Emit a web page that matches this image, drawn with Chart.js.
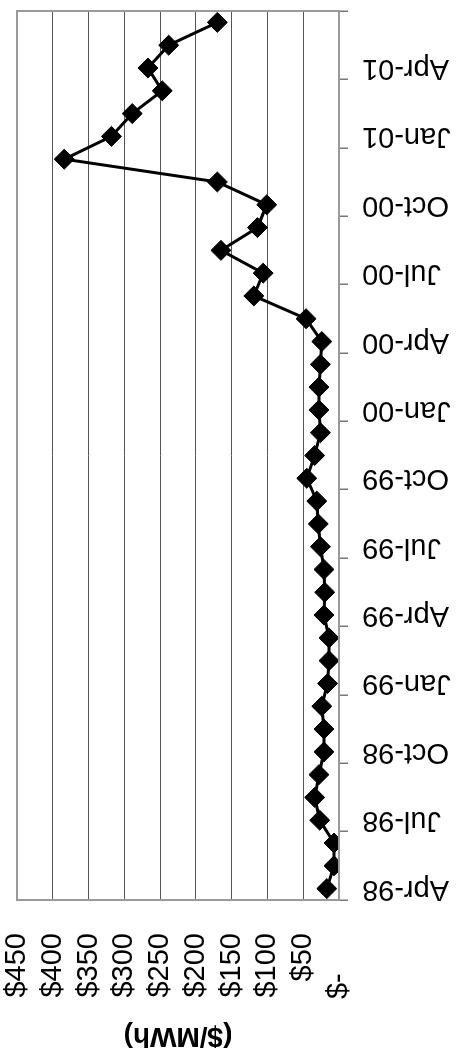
<!DOCTYPE html>
<html>
<head>
<meta charset="utf-8">
<script src="https://cdn.jsdelivr.net/npm/chart.js@4/dist/chart.umd.min.js"></script>
<style>
  html, body { margin: 0; padding: 0; background: #fff; overflow: hidden; }
  body { width: 463px; height: 1061px; position: relative; }
  /* chart is laid out landscape and turned a quarter turn to stand upright */
  #wrap {
    position: absolute; left: 0; top: 0;
    width: 1061px; height: 463px;
    transform-origin: 0 0;
    transform: translate(0, 1061px) rotate(-90deg);
  }
</style>
</head>
<body>
<div id="wrap"><canvas id="priceChart" width="1061" height="463"></canvas></div>
<script>
// Monthly average price, Apr-98 to Jun-01
const months = [
  "Apr-98", "May-98", "Jun-98", "Jul-98", "Aug-98", "Sep-98", "Oct-98", "Nov-98", "Dec-98",
  "Jan-99", "Feb-99", "Mar-99", "Apr-99", "May-99", "Jun-99", "Jul-99", "Aug-99", "Sep-99",
  "Oct-99", "Nov-99", "Dec-99", "Jan-00", "Feb-00", "Mar-00", "Apr-00", "May-00", "Jun-00",
  "Jul-00", "Aug-00", "Sep-00", "Oct-00", "Nov-00", "Dec-00", "Jan-01", "Feb-01", "Mar-01",
  "Apr-01", "May-01", "Jun-01"
];
const prices = [
  17, 7, 7, 27, 34, 28, 21, 21, 24,
  16, 14, 14, 21, 20, 21, 26, 29, 31,
  45, 34, 26, 28, 28, 26, 24, 46, 119,
  106, 165, 114, 101, 170, 384, 318, 289, 247,
  267, 238, 170
];
const valueTicks = [0, 50, 100, 150, 200, 250, 300, 350, 400, 450];

const FONT = "'Liberation Sans', Arial, sans-serif";
const BORDER = '#9a9a9a';

// gray frame round the plot area
const plotFrame = {
  id: 'plotFrame',
  afterDatasetsDraw(chart) {
    const { ctx, chartArea: a } = chart;
    ctx.save();
    ctx.strokeStyle = BORDER;
    ctx.lineWidth = 2;
    ctx.strokeRect(a.left, a.top, a.right - a.left, a.bottom - a.top);
    ctx.restore();
  }
};

const ctx = document.getElementById('priceChart').getContext('2d');
new Chart(ctx, {
  type: 'line',
  data: {
    labels: months,
    datasets: [{
      data: prices,
      borderColor: '#000',
      borderWidth: 3,
      backgroundColor: '#000',
      pointStyle: 'rectRot',
      pointRadius: 10,
      pointBorderWidth: 1,
      pointBorderColor: '#000',
      pointBackgroundColor: '#000',
      tension: 0,
      fill: false
    }]
  },
  options: {
    responsive: false,
    animation: false,
    devicePixelRatio: 1,
    layout: { padding: { left: 0, top: 17, right: 3, bottom: 0 } },
    plugins: {
      legend: { display: false },
      tooltip: { enabled: false }
    },
    scales: {
      x: {
        type: 'category',
        offset: true,
        afterFit: (s) => {
          s.height = 124;
          s.paddingLeft = 0;
          s.paddingRight = 0;
        },
        border: { display: false },
        grid: {
          offset: true,
          drawOnChartArea: false,
          drawTicks: true,
          tickLength: 9,
          lineWidth: 1.5,
          tickColor: (c) => (c.index === undefined || c.index % 3 === 0) ? '#777' : 'rgba(0,0,0,0)'
        },
        ticks: {
          autoSkip: false,
          minRotation: 90,
          maxRotation: 90,
          padding: 14,
          color: '#000',
          font: { family: FONT, size: 29 },
          callback: (v, i) => i % 3 === 0 ? months[i] : ''
        }
      },
      y: {
        min: 0,
        max: 450,
        afterFit: (s) => {
          s.width = 161;
          s.paddingTop = 0;
          s.paddingBottom = 0;
        },
        afterBuildTicks: (s) => { s.ticks = valueTicks.map(v => ({ value: v })); },
        border: { display: false },
        grid: {
          drawTicks: false,
          lineWidth: 1,
          color: (c) => (c.tick && (c.tick.value === 0 || c.tick.value === 450)) ? 'rgba(0,0,0,0)' : '#555'
        },
        ticks: {
          autoSkip: false,
          padding: 33,
          color: '#000',
          font: { family: FONT, size: 29 },
          callback: (v) => v === 0 ? '$-     ' : '$' + v
        },
        title: {
          display: true,
          text: '($/MWh)',
          color: '#000',
          padding: { top: 8, bottom: 0 },
          font: { family: FONT, size: 28, weight: 'bold' }
        }
      }
    }
  },
  plugins: [plotFrame]
});
</script>
</body>
</html>
